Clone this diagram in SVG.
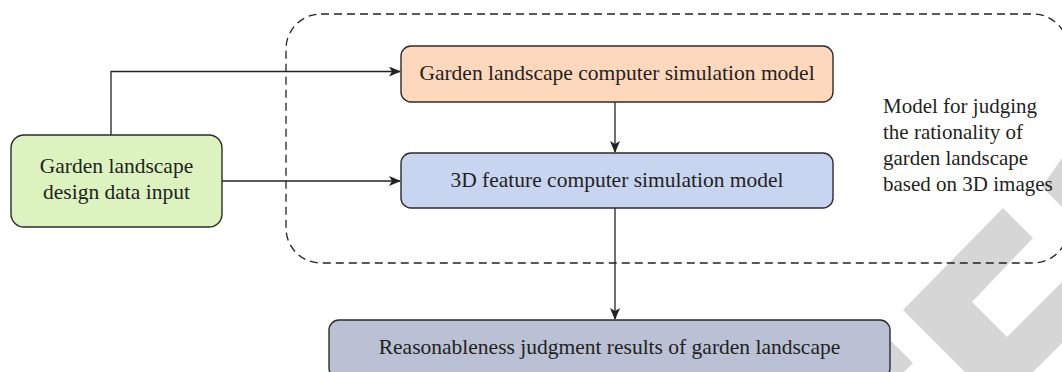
<svg xmlns="http://www.w3.org/2000/svg" width="1062" height="372" viewBox="0 0 1062 372">
<style>
.box{stroke:#2b2b2b;stroke-width:1.4}
.t{font-family:"Liberation Serif","Times New Roman",serif;font-size:21px;fill:#231f20}
.c{text-anchor:middle;font-size:21.5px}
.conn{fill:none;stroke:#222;stroke-width:1.3}
.wm{fill:#d6d6d6}
</style>
<defs>
<marker id="ah" markerWidth="12" markerHeight="10" viewBox="0 0 12 10" refX="11" refY="5" orient="auto" markerUnits="userSpaceOnUse">
<path d="M0,0 L12,5 L0,10 L3,5 Z" fill="#222"/>
</marker>
</defs>
<rect width="1062" height="372" fill="#fff"/>
<g id="watermark">
<polygon class="wm" points="1003,208 1033,238 972,302 1007,337 1062,282 1062,343 1033,372 965,372 903,310"/>
<polygon class="wm" points="878,328 913,363 904,372 870,372"/>
<polygon class="wm" points="1062,158 1042,187 1062,207"/>
</g>
<g id="group-boundary">
<rect x="286" y="14" width="782" height="249" rx="35" fill="none" stroke="#222" stroke-width="1.3" stroke-dasharray="8,5"/>
<text class="t" x="883"><tspan x="883" y="113">Model for judging</tspan><tspan x="883" y="139">the rationality of</tspan><tspan x="883" y="165">garden landscape</tspan><tspan x="883" y="191">based on 3D images</tspan></text>
</g>
<g id="connectors">
<path class="conn" d="M111,135 V71.5 H400" marker-end="url(#ah)"/>
<path class="conn" d="M222,181 H400" marker-end="url(#ah)"/>
<path class="conn" d="M615,102 V152" marker-end="url(#ah)"/>
<path class="conn" d="M615,208 V319" marker-end="url(#ah)"/>
</g>
<g id="node-input">
<rect class="box" x="11" y="135" width="211" height="92" rx="13" fill="#dcf3c0"/>
<text class="t c" x="116.5" y="173">Garden landscape</text>
<text class="t c" x="116.5" y="199">design data input</text>
</g>
<g id="node-garden-model">
<rect class="box" x="401" y="46" width="432" height="56" rx="10" fill="#fdd8bd"/>
<text class="t c" x="617" y="80">Garden landscape computer simulation model</text>
</g>
<g id="node-3d-model">
<rect class="box" x="401" y="153" width="432" height="55" rx="10" fill="#c8d5f0"/>
<text class="t c" x="617" y="187">3D feature computer simulation model</text>
</g>
<g id="node-result">
<rect class="box" x="329" y="320" width="561" height="58" rx="10" fill="#bac1d4"/>
<text class="t c" x="609.5" y="354">Reasonableness judgment results of garden landscape</text>
</g>
</svg>
